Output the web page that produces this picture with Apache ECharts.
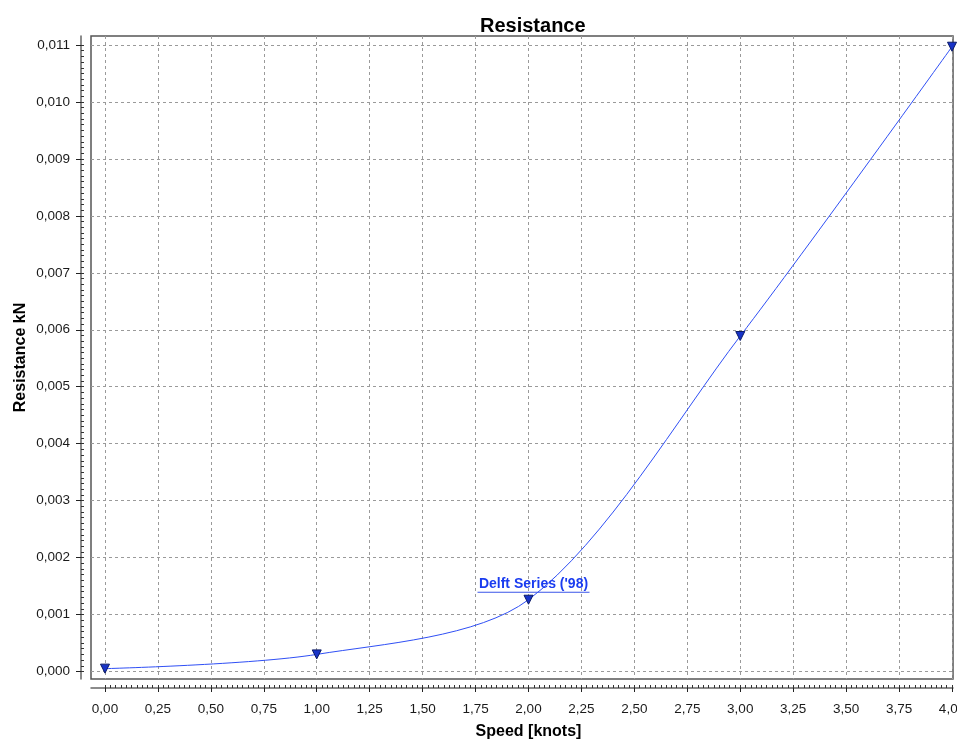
<!DOCTYPE html>
<html>
<head>
<meta charset="utf-8">
<script src="https://cdn.jsdelivr.net/npm/echarts@6/dist/echarts.min.js"></script>
<style>
html,body{margin:0;padding:0;background:#fff;}
#c{width:957px;height:744px;}
</style>
</head>
<body>
<div id="c"></div>
<script>
// ---- data ----
var speed = [0, 1, 2, 3, 4];
var resistance = [0.00005, 0.00030, 0.00126, 0.00589, 0.01097];
var seriesName = "Delft Series ('98)";
var labelIndex = 2;
var xTicks = [0, 0.25, 0.5, 0.75, 1, 1.25, 1.5, 1.75, 2, 2.25, 2.5, 2.75, 3, 3.25, 3.5, 3.75, 4];
var yTicks = [0, 0.001, 0.002, 0.003, 0.004, 0.005, 0.006, 0.007, 0.008, 0.009, 0.010, 0.011];
var titleText = 'Resistance';
var xName = 'Speed [knots]';
var yName = 'Resistance kN';

// axis extents (frame goes a bit beyond the tick range)
var xMin = -0.0661, xMax = 4.0047;
var yMin = -0.000132, yMax = 0.011158;

function minorList(ticks, n) {
  var out = [];
  for (var i = 0; i < ticks.length - 1; i++) {
    var a = ticks[i], b = ticks[i + 1];
    for (var k = 0; k < n; k++) out.push(a + (b - a) * k / n);
  }
  out.push(ticks[ticks.length - 1]);
  return out;
}
var xMinor = minorList(xTicks, 10);
var yMinor = minorList(yTicks, 10);

var blue = '#2f4ff5';
var font = "'Liberation Sans', Arial, sans-serif";

var chart = echarts.init(document.getElementById('c'), null, {renderer: 'canvas'});

var data = speed.map(function (x, i) {
  var d = {value: [x, resistance[i]]};
  if (i === labelIndex) {
    d.label = {
      show: true,
      position: 'top',
      distance: 2,
      offset: [5, 0],
      formatter: '{t|' + seriesName + '}\n{u|}',
      rich: {
        t: {fontFamily: font, fontWeight: 'bold', fontSize: 14, color: '#1a3cf0', lineHeight: 16, align: 'center'},
        u: {width: 112, height: 1, backgroundColor: '#3a55e8', lineHeight: 1}
      }
    };
  }
  return d;
});

chart.setOption({
  animation: false,
  backgroundColor: '#ffffff',
  title: {
    text: titleText,
    left: 475,
    top: 11,
    textStyle: {fontFamily: font, fontWeight: 'bold', fontSize: 20, color: '#000'}
  },
  grid: {
    left: 91, top: 36, right: 4, bottom: 65,
    outerBoundsMode: 'none',
    containLabel: false,
    show: true, borderColor: '#555', borderWidth: 1.5, backgroundColor: 'transparent'
  },
  xAxis: [{
    type: 'value', min: xMin, max: xMax, offset: 9,
    name: xName, nameLocation: 'middle', nameGap: 36,
    nameTextStyle: {fontFamily: font, fontWeight: 'bold', fontSize: 16, color: '#000', padding: [0, 0, 0, 13]},
    axisLine: {show: true, onZero: false, lineStyle: {color: '#666', width: 1.5}},
    axisTick: {show: true, inside: false, length: 4, customValues: xTicks, lineStyle: {color: '#222'}},
    axisLabel: {
      customValues: xTicks, margin: 14, fontFamily: font, fontSize: 13.5, color: '#1a1a1a',
      formatter: function (v) { return v.toFixed(2).replace('.', ','); }
    },
    splitLine: {show: true, lineStyle: {color: '#9a9a9a', type: [3, 3], width: 1}}
  }, {
    type: 'value', min: xMin, max: xMax, offset: 9, position: 'bottom',
    axisLine: {show: false, onZero: false},
    axisTick: {show: true, inside: true, length: 3, customValues: xMinor, lineStyle: {color: '#333'}},
    axisLabel: {show: false},
    splitLine: {show: false}
  }],
  yAxis: [{
    type: 'value', min: yMin, max: yMax, offset: 10,
    name: yName, nameLocation: 'middle', nameGap: 52, nameRotate: 90, nameMoveOverlap: false,
    nameTextStyle: {fontFamily: font, fontWeight: 'bold', fontSize: 16, color: '#000'},
    axisLine: {show: true, onZero: false, lineStyle: {color: '#666', width: 1.5}},
    axisTick: {show: true, inside: false, length: 5, customValues: yTicks, lineStyle: {color: '#222'}},
    axisLabel: {
      customValues: yTicks, margin: 11, fontFamily: font, fontSize: 13.5, color: '#1a1a1a',
      formatter: function (v) { return v.toFixed(3).replace('.', ','); }
    },
    splitLine: {show: true, lineStyle: {color: '#9a9a9a', type: [3, 3], width: 1}}
  }, {
    type: 'value', min: yMin, max: yMax, offset: 10, position: 'left',
    axisLine: {show: false, onZero: false},
    axisTick: {show: true, inside: true, length: 3, customValues: yMinor, lineStyle: {color: '#333'}},
    axisLabel: {show: false},
    splitLine: {show: false}
  }],
  series: [{
    name: seriesName,
    type: 'line',
    xAxisIndex: 0, yAxisIndex: 0,
    smooth: 0.3,
    data: data,
    lineStyle: {color: blue, width: 1},
    symbol: 'triangle',
    symbolRotate: 180,
    symbolSize: 9,
    itemStyle: {color: '#1833c8', borderColor: '#0a1a66', borderWidth: 1},
    z: 5
  }]
});
</script>
</body>
</html>
